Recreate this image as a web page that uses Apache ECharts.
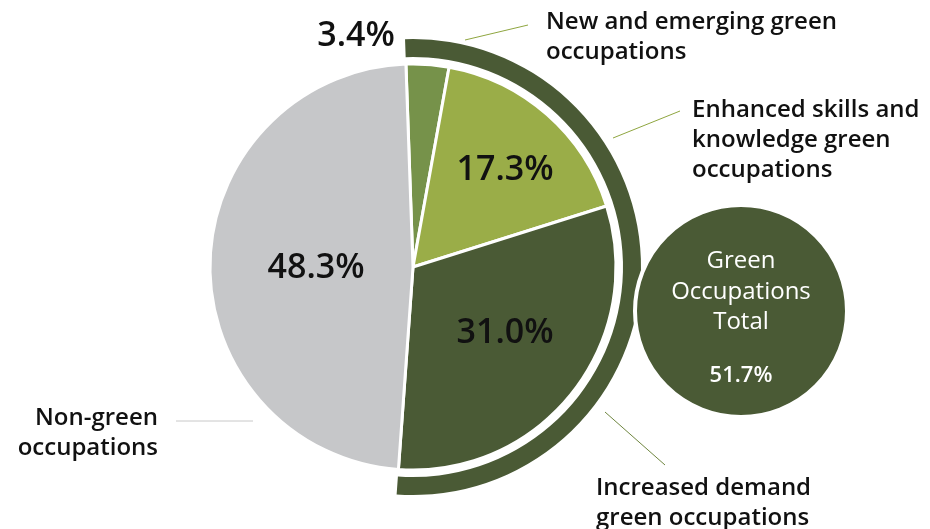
<!DOCTYPE html>
<html>
<head>
<meta charset="utf-8">
<script src="https://cdn.jsdelivr.net/npm/echarts@6/dist/echarts.min.js"></script>
<style>
  html, body { margin: 0; padding: 0; background: #ffffff; }
  #chart { width: 930px; height: 529px; }
</style>
</head>
<body>
<div id="chart"></div>
<script>
// Share of occupations by green category (percent)
const categories = [
  'New and emerging green occupations',
  'Enhanced skills and knowledge green occupations',
  'Increased demand green occupations',
  'Non-green occupations'
];
const shares = [3.4, 17.3, 31.0, 48.3];
const sliceColors = ['#76924a', '#9aad48', '#4a5a35', '#c6c7c9'];
const greenCount = 3; // first three categories are green occupations

const greenTotal = Math.round(shares.slice(0, greenCount).reduce((a, b) => a + b, 0) * 10) / 10;
const fmt = v => v.toFixed(1) + '%';

const FONT = '"Open Sans", "Noto Sans", sans-serif';
const center = [413, 267];
const startAngle = 92;

const chart = echarts.init(document.getElementById('chart'), null, { renderer: 'canvas' });

const text = (x, y, str, opts) => Object.assign({
  type: 'text', x, y, z: 20,
  style: Object.assign({
    text: str, fill: '#111111', font: '600 24px ' + FONT,
    textAlign: 'left', textVerticalAlign: 'middle', lineHeight: 30
  }, opts || {})
});
const line = (x1, y1, x2, y2, color) => ({
  type: 'line', z: 5,
  shape: { x1, y1, x2, y2 },
  style: { stroke: color, lineWidth: 1 }
});

const bubbleFont = '500 24px ' + FONT;

chart.setOption({
  animation: false,
  backgroundColor: '#ffffff',
  series: [
    {
      type: 'pie',
      center, radius: 203, startAngle, clockwise: true,
      silent: true,
      label: { show: false }, labelLine: { show: false },
      itemStyle: { borderColor: '#ffffff', borderWidth: 3 },
      data: categories.map((c, i) => ({ name: c, value: shares[i], itemStyle: { color: sliceColors[i] } }))
    },
    {
      // outer arc spanning all green categories
      type: 'pie',
      center, radius: [210, 228], startAngle, clockwise: true,
      silent: true,
      label: { show: false }, labelLine: { show: false },
      data: [
        { name: 'Green occupations', value: greenTotal, itemStyle: { color: '#4a5a35' } },
        { name: 'Non-green', value: shares[3], itemStyle: { color: 'rgba(0,0,0,0)' } }
      ]
    }
  ],
  graphic: [
    // total bubble
    { type: 'circle', z: 10, shape: { cx: 741, cy: 311, r: 106 },
      style: { fill: '#4a5a35', stroke: '#ffffff', lineWidth: 4 } },
    text(741, 261, 'Green', { fill: '#ffffff', textAlign: 'center', font: bubbleFont }),
    text(741, 292, 'Occupations', { fill: '#ffffff', textAlign: 'center', font: bubbleFont }),
    text(741, 322, 'Total', { fill: '#ffffff', textAlign: 'center', font: bubbleFont }),
    text(741, 376, fmt(greenTotal), { fill: '#ffffff', textAlign: 'center', font: '600 22px ' + FONT }),

    // slice values
    text(356, 36, fmt(shares[0]), { textAlign: 'center', font: '600 34px ' + FONT }),
    text(505, 170, fmt(shares[1]), { textAlign: 'center', font: '600 34px ' + FONT }),
    text(505, 333, fmt(shares[2]), { textAlign: 'center', font: '600 34px ' + FONT }),
    text(316, 268, fmt(shares[3]), { textAlign: 'center', font: '600 34px ' + FONT }),

    // category labels
    text(546, 37, 'New and emerging green\noccupations'),
    text(692, 140, 'Enhanced skills and\nknowledge green\noccupations'),
    text(596, 503, 'Increased demand\ngreen occupations'),
    text(158, 433, 'Non-green\noccupations', { textAlign: 'right' }),

    // leader lines
    line(465, 40, 528, 25, '#8fa640'),
    line(613, 138, 680, 111, '#8fa640'),
    line(605, 412, 665, 465, '#6f8640'),
    line(176, 421, 253, 421, '#c8c8c8')
  ]
});
</script>
</body>
</html>
